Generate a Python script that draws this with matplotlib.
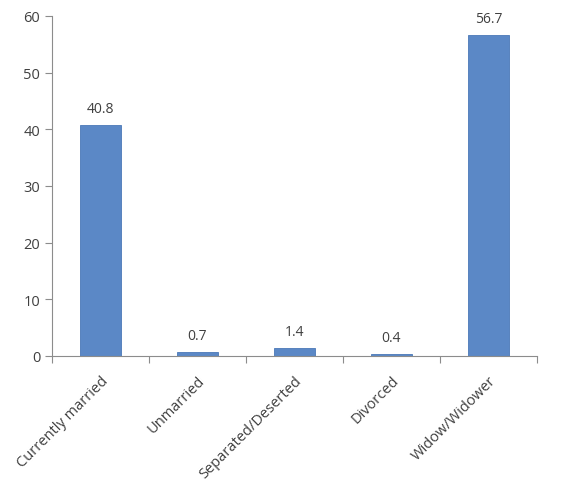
import numpy as np
import matplotlib
matplotlib.use("Agg")
import matplotlib.pyplot as plt

categories = ["Currently married", "Unmarried", "Separated/Deserted", "Divorced", "Widow/Widower"]
values = [40.8, 0.7, 1.4, 0.4, 56.7]
yticks = [0, 10, 20, 30, 40, 50, 60]

plt.rcParams['font.family'] = ['Open Sans', 'DejaVu Sans']
txt = '#404040'
axis_col = '#8c8c8c'

fig = plt.figure(figsize=(5.61, 4.81), dpi=100)
ax = fig.add_axes([52 / 561, 124 / 481, 485 / 561, 340 / 481])

x = np.arange(len(categories))
bars = ax.bar(x, values, width=0.42, color='#5b88c6', edgecolor='#4a78b8', linewidth=0.6)

for b, v in zip(bars, values):
    ax.text(b.get_x() + b.get_width() / 2, v + 1.6, f"{v:.1f}", ha='center', va='bottom',
            fontsize=10, color=txt)

ax.set_xlim(-0.5, len(categories) - 0.5)
ax.set_ylim(0, 60)
ax.set_yticks(yticks)
ax.tick_params(axis='y', labelsize=10.5, colors=axis_col, labelcolor=txt, length=5, width=0.8)

# category boundaries as tick marks, labels at centers
ax.set_xticks(np.arange(-0.5, len(categories), 1.0))
ax.set_xticklabels([])
ax.tick_params(axis='x', which='major', colors=axis_col, length=5, width=0.8, direction='out')
ax.set_xticks(x, minor=True)
ax.set_xticklabels(categories, minor=True, rotation=45, ha='right', rotation_mode='anchor',
                   fontsize=10.5, color=txt)
ax.tick_params(axis='x', which='minor', length=0, pad=12)

for s in ['top', 'right']:
    ax.spines[s].set_visible(False)
for s in ['left', 'bottom']:
    ax.spines[s].set_color(axis_col)
    ax.spines[s].set_linewidth(0.8)

fig.savefig("out.png", dpi=100)
